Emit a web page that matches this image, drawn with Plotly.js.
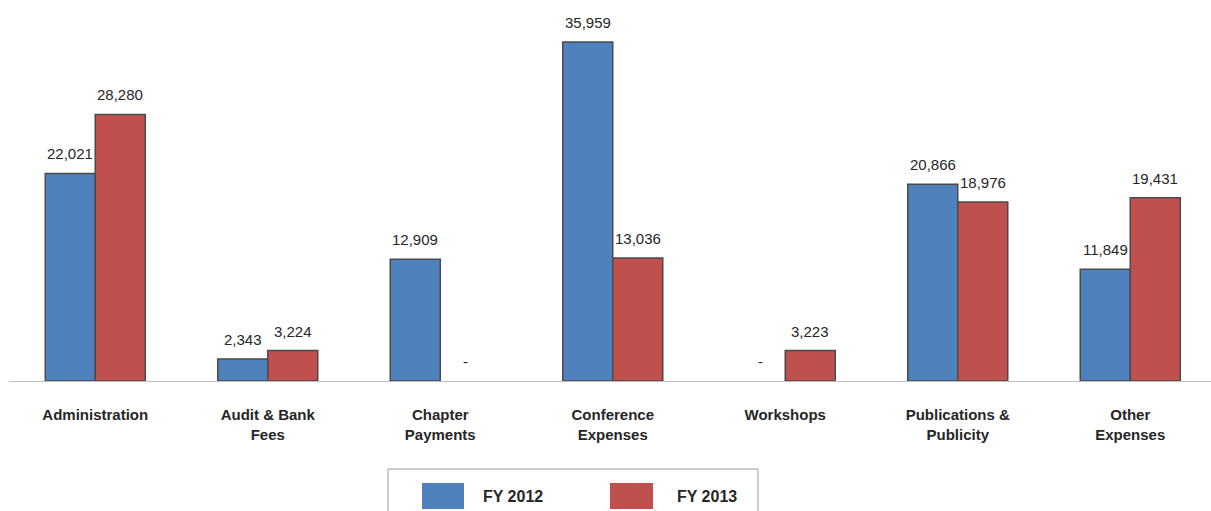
<!DOCTYPE html>
<html>
<head>
<meta charset="utf-8">
<script src="https://cdn.plot.ly/plotly-3.0.1.min.js"></script>
<style>html,body{margin:0;padding:0;background:#fff;}#chart{width:1211px;height:511px;}</style>
</head>
<body>
<div id="chart"></div>
<script>
const categories = ["Administration", "Audit & Bank<br>Fees", "Chapter<br>Payments", "Conference<br>Expenses", "Workshops", "Publications &<br>Publicity", "Other<br>Expenses"];
const seriesNames = ["FY 2012", "FY 2013"];
const fy2012 = [22021, 2343, 12909, 35959, 0, 20866, 11849];
const fy2013 = [28280, 3224, 0, 13036, 3223, 18976, 19431];
const colors = ["#4F81BD", "#C0504D"];

const L = 9, T = 20, W = 1211, H = 511, B = 130, R = 0;
const plotW = W - L - R, plotH = H - T - B;
const catPx = 172.5;
const barPx = 50;
const px2x = p => (p - L) / plotW;
const px2y = p => (H - B - p) / plotH;
const FONT = "Liberation Sans, Arial, sans-serif";

function label(v) { return v === 0 ? "-" : v.toLocaleString("en-US"); }

const seriesVals = [fy2012, fy2013];
const traces = seriesVals.map((vals, i) => ({
  type: "bar",
  name: seriesNames[i],
  x: categories,
  y: vals,
  marker: {color: colors[i], line: {color: "#4a4a4a", width: vals.map(v => v === 0 ? 0 : 1.5)}},
  showlegend: false
}));

const annotations = [];
seriesVals.forEach((vals, i) => {
  vals.forEach((v, j) => {
    annotations.push({
      xref: "x", yref: "y", x: categories[j], y: v,
      xshift: (i === 0 ? -1 : 1) * barPx / 2,
      yshift: 9,
      yanchor: "bottom", xanchor: "center",
      text: label(v), showarrow: false,
      font: {family: FONT, size: 15, color: "#262626"}
    });
  });
});

const shapes = [
  {type: "rect", xref: "paper", yref: "paper", x0: px2x(388), x1: px2x(758), y0: px2y(520), y1: px2y(469), line: {color: "#9a9a9a", width: 1}, fillcolor: "#fff"},
  {type: "rect", xref: "paper", yref: "paper", x0: px2x(422), x1: px2x(464), y0: px2y(509), y1: px2y(483), line: {width: 0}, fillcolor: colors[0]},
  {type: "rect", xref: "paper", yref: "paper", x0: px2x(610), x1: px2x(653), y0: px2y(509), y1: px2y(483), line: {width: 0}, fillcolor: colors[1]}
];
annotations.push(
  {xref: "paper", yref: "paper", x: px2x(481), y: px2y(496), xanchor: "left", yanchor: "middle", text: "<b>" + seriesNames[0] + "</b>", showarrow: false, font: {family: FONT, size: 16, color: "#262626"}},
  {xref: "paper", yref: "paper", x: px2x(675), y: px2y(496), xanchor: "left", yanchor: "middle", text: "<b>" + seriesNames[1] + "</b>", showarrow: false, font: {family: FONT, size: 16, color: "#262626"}}
);

const layout = {
  width: W, height: H,
  margin: {l: L, r: R, t: T, b: B},
  paper_bgcolor: "#fff", plot_bgcolor: "#fff",
  barmode: "group",
  bargap: 1 - 2 * barPx / catPx,
  bargroupgap: 0,
  xaxis: {
    type: "category",
    range: [-0.5, -0.5 + plotW / catPx],
    showline: true, linecolor: "#bdbdbd", linewidth: 1,
    ticks: "outside", ticklen: 20, tickcolor: "rgba(0,0,0,0)",
    tickfont: {family: FONT, size: 15, color: "#262626", weight: "bold"},
    showgrid: false, zeroline: false, fixedrange: true
  },
  yaxis: {
    range: [0, 38294],
    visible: false, showgrid: false, zeroline: false, fixedrange: true
  },
  shapes: shapes,
  annotations: annotations,
  showlegend: false
};

Plotly.newPlot("chart", traces, layout, {displayModeBar: false, staticPlot: true});
</script>
</body>
</html>
